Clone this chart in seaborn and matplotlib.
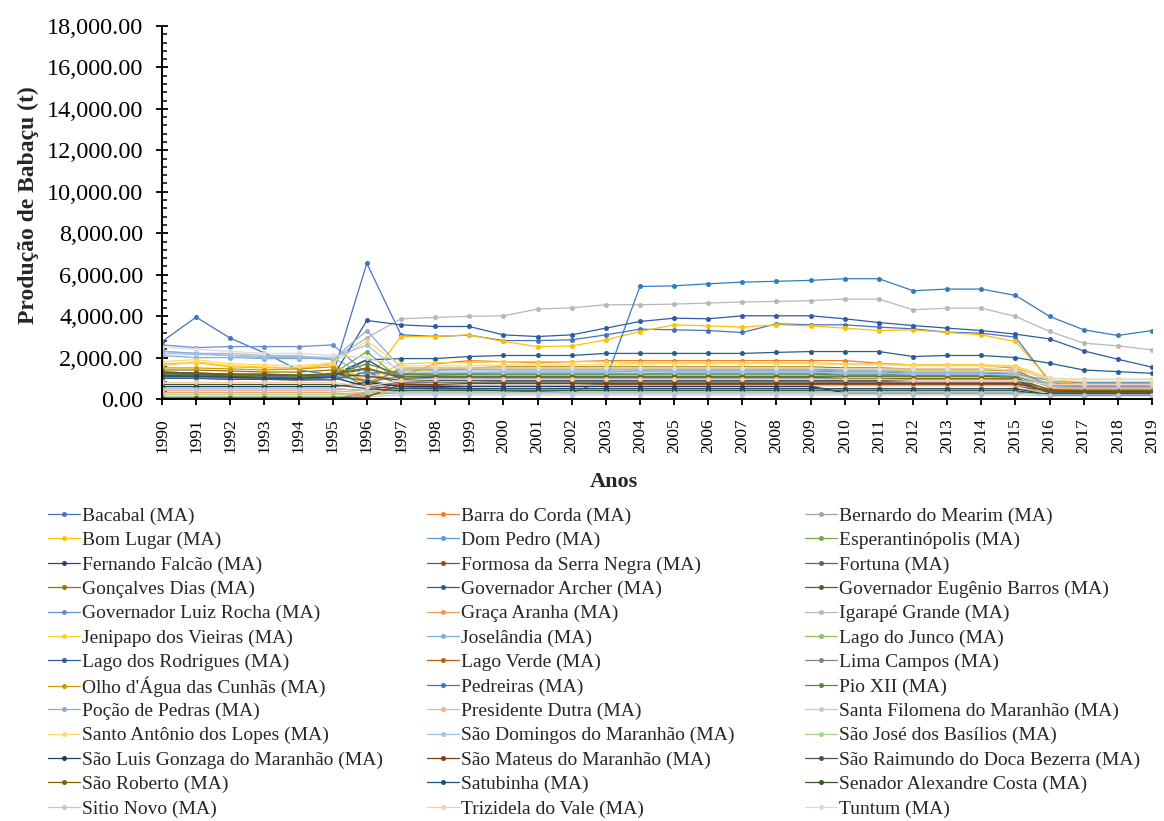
import numpy as np
import pandas as pd
import matplotlib
matplotlib.use("Agg")
import matplotlib.pyplot as plt
from matplotlib.ticker import FuncFormatter, MultipleLocator
import seaborn as sns

anos = list(range(1990, 2020))

municipios = [
    "Bacabal (MA)", "Barra do Corda (MA)", "Bernardo do Mearim (MA)",
    "Bom Lugar (MA)", "Dom Pedro (MA)", "Esperantinópolis (MA)",
    "Fernando Falcão (MA)", "Formosa da Serra Negra (MA)", "Fortuna (MA)",
    "Gonçalves Dias (MA)", "Governador Archer (MA)", "Governador Eugênio Barros (MA)",
    "Governador Luiz Rocha (MA)", "Graça Aranha (MA)", "Igarapé Grande (MA)",
    "Jenipapo dos Vieiras (MA)", "Joselândia (MA)", "Lago do Junco (MA)",
    "Lago dos Rodrigues (MA)", "Lago Verde (MA)", "Lima Campos (MA)",
    "Olho d'Água das Cunhãs (MA)", "Pedreiras (MA)", "Pio XII (MA)",
    "Poção de Pedras (MA)", "Presidente Dutra (MA)", "Santa Filomena do Maranhão (MA)",
    "Santo Antônio dos Lopes (MA)", "São Domingos do Maranhão (MA)", "São José dos Basílios (MA)",
    "São Luis Gonzaga do Maranhão (MA)", "São Mateus do Maranhão (MA)", "São Raimundo do Doca Bezerra (MA)",
    "São Roberto (MA)", "Satubinha (MA)", "Senador Alexandre Costa (MA)",
    "Sitio Novo (MA)", "Trizidela do Vale (MA)", "Tuntum (MA)",
]

# Produção anual de babaçu (t), 1990-2019
bacabal = [2770, 3950, 2935, 2225, 1400, 1160, 6550, 3100, 3020, 3080, 2820, 2820, 2855, 3095, 3370,
           3340, 3305, 3210, 3630, 3580, 3580, 3470, 3385, 3225, 3175, 2985, 840, 515, 515, 595]
barra_do_corda = [1300, 1250, 1200, 1200, 1150, 1250, 800, 1100, 1700, 1850, 1800, 1750, 1800, 1850, 1850,
                  1850, 1850, 1850, 1855, 1855, 1855, 1725, 1645, 1645, 1620, 1485, 920, 760, 760, 760]
bernardo_do_mearim = [600, 600, 600, 600, 600, 600, 700, 650, 650, 650, 650, 650, 650, 650, 650,
                      650, 650, 650, 650, 650, 300, 300, 300, 300, 300, 300, 250, 250, 250, 250]
bom_lugar = [1700, 1750, 1550, 1500, 1500, 1650, 800, 3015, 3015, 3095, 2775, 2530, 2560, 2855, 3255,
             3580, 3530, 3470, 3580, 3530, 3420, 3305, 3340, 3210, 3095, 2775, 920, 650, 620, 600]
dom_pedro = [1100, 1050, 1000, 1000, 950, 900, 1300, 1200, 1250, 1250, 1300, 1300, 1300, 1300, 1350,
             1350, 1350, 1350, 1350, 1350, 1300, 1300, 1250, 1250, 1250, 1200, 900, 800, 800, 800]
esperantinopolis = [1200, 1150, 1150, 1100, 1100, 1200, 2290, 900, 800, 800, 800, 800, 800, 800, 800,
                    800, 800, 800, 800, 800, 750, 750, 750, 750, 750, 750, 500, 450, 450, 450]
fernando_falcao = [1250, 1200, 1100, 1000, 1000, 1150, 1900, 950, 900, 950, 1000, 1000, 1000, 1000, 1000,
                   1000, 1000, 1000, 1000, 1000, 950, 950, 950, 950, 950, 900, 400, 350, 350, 350]
formosa = [0, 0, 0, 0, 0, 0, 300, 500, 550, 600, 650, 650, 650, 700, 700,
           700, 700, 700, 700, 700, 700, 700, 700, 700, 700, 700, 350, 350, 350, 350]
fortuna = [1000, 1000, 950, 950, 900, 950, 1300, 700, 650, 650, 650, 650, 650, 650, 650,
           650, 650, 650, 650, 650, 650, 650, 650, 650, 650, 650, 300, 300, 300, 300]
goncalves_dias = [1400, 1400, 1350, 1300, 1300, 1400, 600, 1500, 1500, 1500, 1550, 1550, 1550, 1550, 1550,
                  1550, 1550, 1550, 1550, 1550, 1500, 1500, 1450, 1450, 1450, 1400, 650, 600, 600, 600]
gov_archer = [1100, 1100, 1050, 1050, 1000, 1050, 1890, 1950, 1950, 2050, 2100, 2100, 2100, 2200, 2200,
              2200, 2200, 2200, 2250, 2290, 2290, 2290, 2050, 2100, 2100, 2000, 1725, 1400, 1320, 1240]
gov_eugenio_barros = [1150, 1100, 1100, 1050, 1050, 1150, 1450, 1100, 1100, 1100, 1100, 1100, 1100, 1100, 1100,
                      1100, 1100, 1100, 1100, 1100, 1100, 1100, 1100, 1100, 1100, 1050, 300, 250, 250, 250]
gov_luiz_rocha = [2610, 2480, 2530, 2530, 2530, 2610, 1250, 1200, 1200, 1200, 1200, 1200, 1200, 1200, 1200,
                  1250, 1250, 1250, 1250, 1250, 1200, 1200, 1150, 1150, 1150, 1100, 650, 600, 600, 600]
graca_aranha = [300, 300, 300, 300, 300, 300, 200, 400, 450, 450, 450, 450, 450, 450, 450,
                450, 450, 450, 450, 450, 450, 450, 450, 450, 450, 450, 400, 400, 400, 400]
igarape_grande = [2300, 2200, 2200, 2100, 2100, 1900, 2950, 3870, 3935, 3990, 4015, 4340, 4400, 4550, 4550,
                  4580, 4630, 4680, 4710, 4745, 4820, 4820, 4305, 4385, 4385, 3985, 3260, 2695, 2565, 2370]
jenipapo = [1600, 1800, 1600, 1550, 1500, 1700, 900, 1700, 1750, 1750, 1800, 1800, 1800, 1800, 1750,
            1750, 1750, 1750, 1750, 1750, 1700, 1700, 1650, 1650, 1650, 1600, 1000, 950, 950, 950]
joselandia = [2100, 2000, 2000, 1950, 1950, 2000, 1100, 1000, 1000, 1000, 1000, 1000, 1000, 1000, 1000,
              1000, 1000, 1000, 1000, 1000, 950, 950, 950, 950, 950, 900, 800, 700, 700, 700]
lago_do_junco = [100, 100, 100, 100, 100, 100, 200, 300, 300, 300, 300, 300, 300, 300, 300,
                 300, 300, 300, 300, 300, 300, 300, 300, 300, 300, 300, 250, 250, 250, 250]
lago_dos_rodrigues = [1000, 1000, 950, 950, 950, 1050, 3790, 3580, 3500, 3500, 3095, 3015, 3095, 3420, 3740,
                      3900, 3870, 4015, 4015, 4015, 3870, 3690, 3545, 3420, 3305, 3130, 2900, 2320, 1920, 1535]
lago_verde = [500, 500, 500, 500, 500, 500, 400, 750, 800, 800, 850, 850, 850, 850, 850,
              850, 850, 850, 850, 850, 850, 850, 800, 800, 800, 800, 450, 400, 400, 400]
lima_campos = [1050, 1050, 1000, 1000, 1000, 1050, 600, 800, 800, 800, 800, 800, 800, 800, 800,
               800, 800, 800, 800, 800, 800, 800, 800, 800, 800, 800, 500, 500, 500, 500]
olho_dagua = [1500, 1500, 1450, 1400, 1450, 1550, 800, 1400, 1400, 1450, 1450, 1450, 1450, 1450, 1450,
              1450, 1450, 1450, 1450, 1450, 1400, 1400, 1400, 1400, 1400, 1350, 700, 650, 650, 650]
pedreiras = [1300, 1250, 1200, 1150, 1000, 1100, 900, 600, 500, 450, 400, 350, 300, 920, 5430,
             5460, 5560, 5640, 5680, 5725, 5805, 5805, 5225, 5305, 5305, 5000, 3985, 3340, 3065, 3305]
pio_xii = [1200, 1200, 1150, 1150, 1100, 1150, 1700, 1200, 1150, 1200, 1200, 1200, 1200, 1200, 1200,
           1200, 1200, 1200, 1200, 1200, 1150, 1150, 1150, 1150, 1150, 1100, 600, 550, 550, 550]
pocao_de_pedras = [2300, 2200, 2100, 2000, 2000, 1900, 3300, 1500, 1400, 1400, 1400, 1400, 1400, 1400, 1400,
                   1400, 1400, 1400, 1400, 1400, 1350, 1350, 1300, 1300, 1300, 1250, 700, 650, 650, 650]
presidente_dutra = [400, 400, 400, 400, 400, 400, 300, 600, 600, 650, 650, 650, 650, 650, 650,
                    650, 650, 650, 650, 650, 650, 650, 650, 650, 650, 650, 500, 500, 500, 500]
santa_filomena = [0, 0, 0, 0, 0, 0, 100, 200, 200, 200, 200, 200, 200, 200, 200,
                  200, 200, 200, 200, 200, 200, 200, 200, 200, 200, 200, 150, 150, 150, 150]
santo_antonio = [1800, 1900, 1700, 1650, 1600, 1750, 2800, 1600, 1600, 1600, 1650, 1650, 1650, 1650, 1700,
                 1700, 1700, 1700, 1700, 1700, 1650, 1650, 1600, 1600, 1600, 1550, 900, 850, 850, 850]
sao_domingos = [2200, 2150, 2100, 2050, 2050, 2000, 2600, 1300, 1300, 1300, 1300, 1300, 1300, 1300, 1300,
                1300, 1300, 1300, 1300, 1300, 1250, 1250, 1200, 1200, 1200, 1150, 600, 550, 550, 550]
sao_jose = [200, 200, 200, 200, 200, 200, 300, 500, 500, 500, 500, 500, 500, 500, 500,
            500, 500, 500, 500, 500, 500, 500, 500, 500, 500, 500, 300, 300, 300, 300]
sao_luis_gonzaga = [600, 600, 600, 600, 600, 600, 800, 600, 600, 600, 600, 600, 600, 600, 600,
                    600, 600, 600, 600, 600, 300, 300, 300, 300, 300, 300, 250, 250, 250, 250]
sao_mateus = [50, 50, 50, 50, 50, 50, 100, 700, 700, 750, 750, 750, 750, 750, 750,
              750, 750, 750, 750, 750, 750, 750, 750, 750, 750, 750, 400, 350, 350, 350]
sao_raimundo = [1300, 1250, 1200, 1200, 1150, 1200, 1100, 900, 900, 900, 900, 900, 900, 900, 900,
                900, 900, 900, 900, 900, 900, 900, 900, 900, 900, 900, 300, 300, 300, 300]
sao_roberto = [1250, 1200, 1200, 1150, 1150, 1200, 1500, 1000, 1050, 1050, 1050, 1050, 1050, 1050, 1050,
               1050, 1050, 1050, 1050, 1050, 1000, 1000, 1000, 1000, 1000, 1000, 450, 400, 400, 400]
satubinha = [1100, 1100, 1050, 1000, 1000, 1050, 600, 500, 500, 500, 500, 500, 500, 500, 500,
             500, 500, 500, 500, 500, 500, 500, 500, 500, 500, 500, 200, 200, 200, 200]
senador_alexandre_costa = [700, 700, 700, 700, 700, 700, 500, 400, 400, 400, 400, 400, 400, 400, 400,
                           400, 400, 400, 400, 400, 400, 400, 400, 400, 400, 400, 200, 200, 200, 200]
sitio_novo = [500, 500, 500, 500, 500, 500, 400, 300, 300, 300, 300, 300, 300, 300, 300,
              300, 300, 300, 300, 300, 300, 300, 300, 300, 300, 300, 200, 200, 200, 200]
trizidela = [800, 800, 800, 800, 800, 800, 600, 900, 950, 950, 950, 950, 950, 950, 950,
             950, 950, 950, 950, 950, 950, 950, 900, 900, 900, 900, 700, 700, 700, 700]
tuntum = [2500, 2400, 2300, 2200, 2200, 2100, 2000, 1500, 1500, 1500, 1500, 1500, 1500, 1500, 1500,
          1500, 1500, 1500, 1500, 1500, 1450, 1450, 1450, 1450, 1450, 1400, 1000, 950, 950, 950]

series = [
    bacabal, barra_do_corda, bernardo_do_mearim, bom_lugar, dom_pedro, esperantinopolis,
    fernando_falcao, formosa, fortuna, goncalves_dias, gov_archer, gov_eugenio_barros,
    gov_luiz_rocha, graca_aranha, igarape_grande, jenipapo, joselandia, lago_do_junco,
    lago_dos_rodrigues, lago_verde, lima_campos, olho_dagua, pedreiras, pio_xii,
    pocao_de_pedras, presidente_dutra, santa_filomena, santo_antonio, sao_domingos, sao_jose,
    sao_luis_gonzaga, sao_mateus, sao_raimundo, sao_roberto, satubinha, senador_alexandre_costa,
    sitio_novo, trizidela, tuntum,
]

# Office-style series colours: accents, darker, lighter variants
cores = [
    "#4472C4", "#ED7D31", "#A5A5A5", "#FFC000", "#5B9BD5", "#70AD47",
    "#264478", "#9E480E", "#636363", "#997300", "#255E91", "#43682B",
    "#698ED0", "#F1975A", "#B7B7B7", "#FFCD33", "#7CAFDD", "#8CC168",
    "#335AA1", "#C65911", "#848484", "#CC9A00", "#327DC2", "#5A8A39",
    "#8FAADC", "#F4B183", "#C9C9C9", "#FFD966", "#9DC3E6", "#A9D18E",
    "#203864", "#843C0C", "#525252", "#7F6000", "#1F4E79", "#385723",
    "#B4C7E7", "#F8CBAD", "#DBDBDB",
]

df = pd.DataFrame({
    "Ano": np.tile(anos, len(municipios)),
    "Município": np.repeat(municipios, len(anos)),
    "Produção": np.concatenate([np.asarray(s, dtype=float) for s in series]),
})

sns.set_style("white")
plt.rcParams["font.family"] = ["Liberation Serif", "DejaVu Serif"]

fig = plt.figure(figsize=(11.64, 8.21), dpi=100)
ax = fig.add_axes([162 / 1164, 1 - 399 / 821, (1152 - 162) / 1164, (399 - 26) / 821])

sns.lineplot(
    data=df, x="Ano", y="Produção", hue="Município", hue_order=municipios,
    palette=dict(zip(municipios, cores)), estimator=None, errorbar=None, sort=False,
    marker="o", markersize=3.6, markeredgewidth=0, linewidth=0.9, legend=False, ax=ax,
)

ax.set_xlim(1990, 2019)
ax.set_ylim(0, 18000)
ax.set_xticks(anos)
ax.set_xticklabels([str(a) for a in anos], rotation=90)
ax.yaxis.set_major_locator(MultipleLocator(2000))
ax.yaxis.set_minor_locator(MultipleLocator(400))
ax.yaxis.set_major_formatter(FuncFormatter(lambda v, p: f"{v:,.2f}"))
ax.tick_params(axis="y", which="major", left=True, direction="inout", length=9, width=1.3, pad=9,
               labelsize=17.5, colors="black")
ax.tick_params(axis="y", which="minor", left=True, direction="in", length=3.5, width=1.1, colors="black")
ax.tick_params(axis="x", which="major", bottom=True, direction="inout", length=8, width=1.3, pad=10,
               labelsize=12.5, colors="black")

for side in ("top", "right"):
    ax.spines[side].set_visible(False)
for side in ("left", "bottom"):
    ax.spines[side].set_color("black")
    ax.spines[side].set_linewidth(1.4)

ax.set_xlabel("")
ax.set_ylabel("")
fig.text(28 / 1164, 1 - 205 / 821, "Produção de Babaçu (t)", rotation=90, ha="center", va="center",
         fontsize=17, fontweight="bold")
fig.text(614 / 1164, 1 - 482 / 821, "Anos", ha="center", va="center", fontsize=16, fontweight="bold")

# Legend: three columns filled row by row, one entry per row slot
linhas = ax.lines[:len(municipios)]
colunas_x = [48 / 1164, 427 / 1164, 805 / 1164]
for i, (linha, nome) in enumerate(zip(linhas, municipios)):
    col, row = i % 3, i // 3
    y_px = 516 + 24.4 * row
    fig.legend(
        [linha], [nome], loc="center left", bbox_to_anchor=(colunas_x[col], 1 - y_px / 821),
        bbox_transform=fig.transFigure, frameon=False, fontsize=14, handlelength=1.65,
        handletextpad=0.1, borderpad=0, borderaxespad=0,
    )

fig.savefig("out.png", dpi=100, facecolor="white")
